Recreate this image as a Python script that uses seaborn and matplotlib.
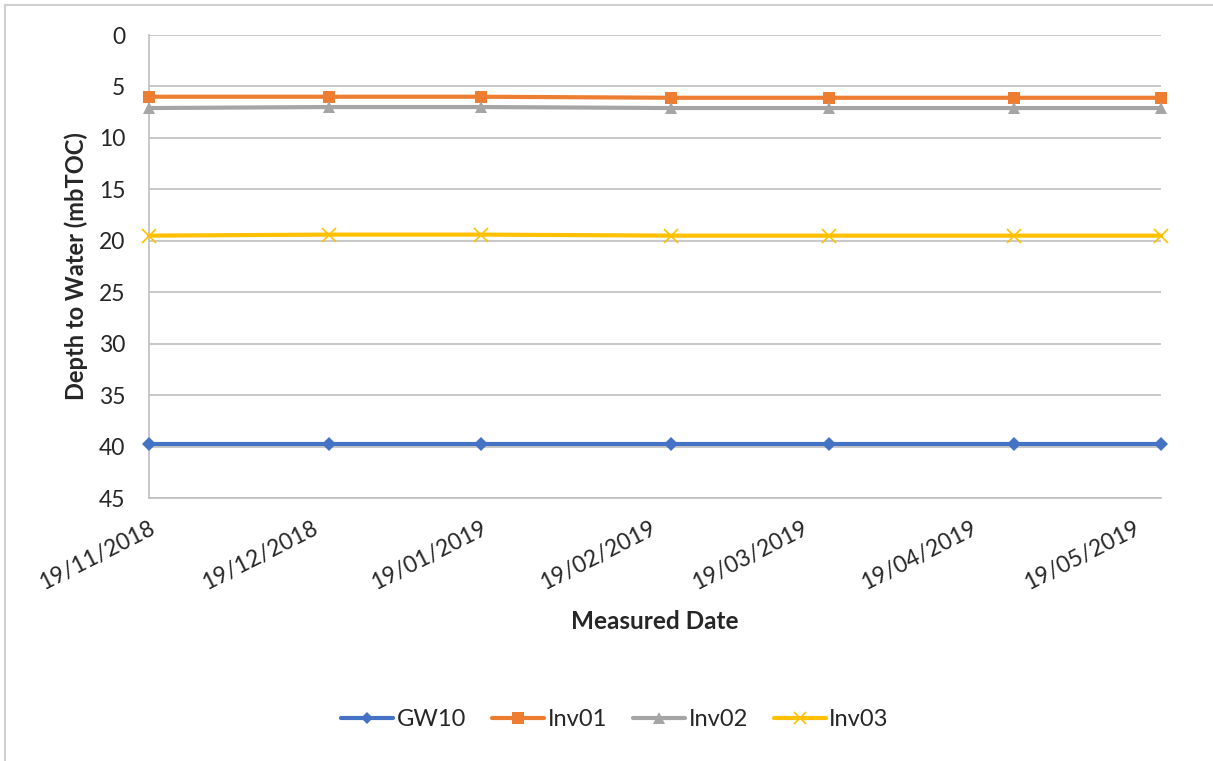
"""
Depth to water per well, Nov 2018 - May 2019 (Excel-style line chart).
"""

import pandas as pd
import numpy as np
import matplotlib.pyplot as plt
import matplotlib.dates as mdates
from matplotlib.lines import Line2D
import seaborn as sns

# Datos
dates = ['2018-11-19', '2018-12-22', '2019-01-19', '2019-02-23',
         '2019-03-24', '2019-04-27', '2019-05-24']
gw10 = [39.8, 39.8, 39.8, 39.8, 39.8, 39.8, 39.8]
inv01 = [6.0, 6.0, 6.0, 6.1, 6.1, 6.1, 6.1]
inv02 = [7.1, 7.0, 7.0, 7.1, 7.1, 7.1, 7.1]
inv03 = [19.5, 19.4, 19.4, 19.5, 19.5, 19.5, 19.5]
tick_dates = ['2018-11-19', '2018-12-19', '2019-01-19', '2019-02-19',
              '2019-03-19', '2019-04-19', '2019-05-19']

series = {'GW10': gw10, 'Inv01': inv01, 'Inv02': inv02, 'Inv03': inv03}
colors = {'GW10': '#4472C4', 'Inv01': '#ED7D31', 'Inv02': '#A5A5A5', 'Inv03': '#FFC000'}
markers = {'GW10': 'D', 'Inv01': 's', 'Inv02': '^', 'Inv03': 'x'}
msizes = {'GW10': 7, 'Inv01': 9, 'Inv02': 9, 'Inv03': 10}

df = pd.DataFrame({'date': pd.to_datetime(dates)})
for name, vals in series.items():
    df[name] = vals
df_long = df.melt(id_vars='date', var_name='well', value_name='depth')

sns.set_theme(style='white')
plt.rcParams['font.family'] = ['Lato', 'DejaVu Sans']

fig = plt.figure(figsize=(12.13, 7.61), dpi=100)
ax = fig.add_axes([149 / 1213, 1 - 498 / 761, (1161 - 149) / 1213, (498 - 35) / 761])

grid_c = '#BFBFBF'
for name in series:
    sub = df_long[df_long['well'] == name]
    sns.lineplot(data=sub, x='date', y='depth', ax=ax, color=colors[name],
                 linewidth=3, marker=markers[name], markersize=msizes[name],
                 markeredgecolor=colors[name], markeredgewidth=1.2 if name == 'Inv03' else 0,
                 clip_on=False, zorder=3, legend=False)

# Eje Y invertido
ax.set_ylim(45, 0)
ax.set_yticks(np.arange(0, 46, 5))
ax.set_xlim(pd.Timestamp(dates[0]), pd.Timestamp(dates[-1]))
ax.set_xticks(pd.to_datetime(tick_dates))
ax.xaxis.set_major_formatter(mdates.DateFormatter('%d/%m/%Y'))

ax.yaxis.grid(True, color=grid_c, linewidth=1.2)
ax.xaxis.grid(False)
for s in ['top', 'right']:
    ax.spines[s].set_visible(False)
for s in ['left', 'bottom']:
    ax.spines[s].set_color(grid_c)
    ax.spines[s].set_linewidth(1.2)
ax.tick_params(axis='both', which='major', length=8, width=1.2, color=grid_c,
               labelsize=16.5, labelcolor='#262626', direction='out')
ax.tick_params(axis='y', pad=9)
ax.tick_params(axis='x', pad=6)
plt.setp(ax.get_xticklabels(), rotation=27, ha='right', rotation_mode='anchor')

ax.set_xlabel('Measured Date', fontsize=17.5, fontweight='bold', labelpad=12)
ax.set_ylabel('Depth to Water (mbTOC)', fontsize=17, fontweight='bold', labelpad=8)

# Leyenda inferior
handles = [Line2D([0], [0], color=colors[n], linewidth=3, marker=markers[n],
                  markersize=msizes[n] - 1, markeredgecolor=colors[n],
                  markeredgewidth=1.2 if n == 'Inv03' else 0) for n in series]
fig.legend(handles, list(series.keys()), loc='center', bbox_to_anchor=(0.507, 1 - 720 / 761),
           ncol=4, frameon=False, fontsize=17, handlelength=2.2, columnspacing=1.1,
           handletextpad=0.15)

# Marco del grafico
fig.add_artist(Line2D([5 / 1213, 5 / 1213], [0, 1 - 5 / 761], color='#D0D0D0',
                      linewidth=1.5, transform=fig.transFigure))
fig.add_artist(Line2D([5 / 1213, 1], [1 - 5 / 761, 1 - 5 / 761], color='#D0D0D0',
                      linewidth=1.5, transform=fig.transFigure))

fig.savefig('out.png', dpi=100, facecolor='white')
